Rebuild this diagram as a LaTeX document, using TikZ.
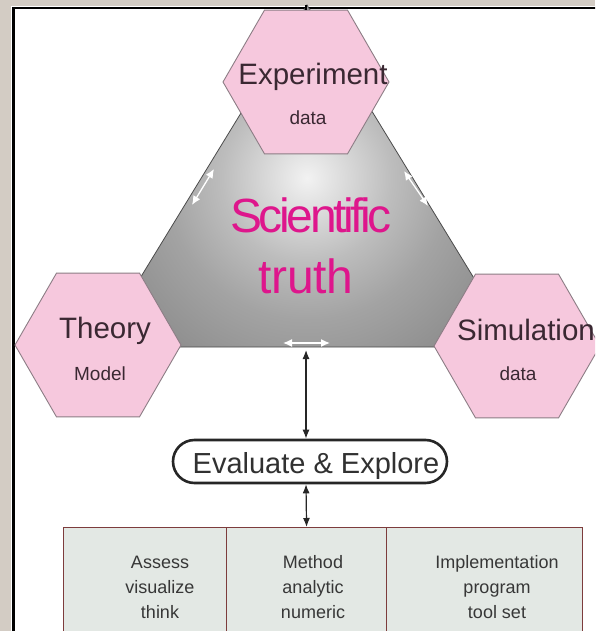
\documentclass[tikz,border=0pt]{standalone}
\usepackage{fontspec}
\setmainfont{Liberation Sans}
\newfontfamily\truthfont[LetterSpace=-7]{Liberation Sans}
\newfontfamily\truthfontb[LetterSpace=-1]{Liberation Sans}
\usetikzlibrary{shapes.geometric,arrows.meta}

\definecolor{pagegray}{RGB}{211,204,196}
\definecolor{hexpink}{RGB}{246,200,221}
\definecolor{hexline}{RGB}{140,125,133}
\definecolor{hextext}{RGB}{58,40,50}
\definecolor{truthpink}{RGB}{222,22,140}
\definecolor{boxfill}{RGB}{227,232,228}
\definecolor{boxline}{RGB}{125,60,60}
\definecolor{bodytext}{RGB}{55,55,55}
\definecolor{edgegray}{RGB}{75,75,75}

% light spot in the middle, darker towards the corners of the triangle
\pgfdeclareradialshading{truthshade}{\pgfpoint{0bp}{0bp}}{%
  rgb(0bp)=(0.95,0.95,0.95);
  rgb(4bp)=(0.88,0.88,0.88);
  rgb(12bp)=(0.74,0.74,0.74);
  rgb(20bp)=(0.64,0.64,0.64);
  rgb(30bp)=(0.56,0.56,0.56);
  rgb(36bp)=(0.46,0.46,0.46);
  rgb(41bp)=(0.35,0.35,0.35);
  rgb(50bp)=(0.29,0.29,0.29)}

\tikzset{
  hexagon/.style={regular polygon, regular polygon sides=6, minimum size=166pt,
    inner sep=0pt, fill=hexpink, draw=hexline, line width=0.9pt},
  hextitle/.style={text=hextext, inner sep=0pt, font=\fontsize{29.5}{30}\selectfont},
  hexsub/.style={text=hextext, inner sep=0pt, font=\fontsize{19}{20}\selectfont},
  truthtext/.style={text=truthpink, inner sep=0pt, font=\truthfont\fontsize{48}{50}\selectfont},
  truthtextb/.style={text=truthpink, inner sep=0pt, font=\truthfontb\fontsize{48}{50}\selectfont},
  stadium/.style={rectangle, rounded corners=21.5pt, minimum width=274pt,
    minimum height=43pt, draw=black!85, line width=2.6pt, fill=white, inner sep=0pt},
  evaltext/.style={text=bodytext!90!black, inner sep=0pt, font=\fontsize{29}{30}\selectfont},
  panelbox/.style={rectangle, anchor=north west, fill=boxfill, draw=boxline,
    line width=1.1pt, minimum height=140pt, inner sep=0pt},
  boxtext/.style={text=bodytext, align=center, inner sep=0pt,
    font=\fontsize{18}{25}\selectfont},
  dblarrow/.style={{Latex[length=9pt,width=7pt]}-{Latex[length=9pt,width=7pt]},
    line width=1.2pt, draw=black!85},
  whitearrow/.style={{Latex[length=9pt,width=8pt]}-{Latex[length=9pt,width=8pt]},
    line width=1.3pt, draw=white, fill=white},
}

\begin{document}
\begin{tikzpicture}[x=1pt,y=-1pt]
\useasboundingbox (0,0) rectangle (595,631);
\clip (0,0) rectangle (595,631);

% page and framed panel
\fill[pagegray] (0,0) rectangle (595,631);
\fill[white] (11,6) rectangle (12,640);
\fill[white] (11,6) rectangle (600,7);
\fill[white] (15,9.5) rectangle (600,640);
\fill[black] (12,7) rectangle (15,640);
\fill[black] (12,7) rectangle (600,9.5);

% shaded triangle
\coordinate (tl) at (98,347);
\coordinate (tr) at (516,347);
\coordinate (tt) at (307,5);
\begin{scope}
  \clip (tl) -- (tt) -- (tr) -- cycle;
  \shade[shading=truthshade] (130,1) rectangle (484,355);
\end{scope}
\draw[edgegray, line width=0.8pt] (tl) -- (tt) -- (tr) -- cycle;

% white arrows along the triangle edges
\coordinate (wa1) at (214,169);
\coordinate (wa2) at (192,205);
\coordinate (wb1) at (404,171);
\coordinate (wb2) at (428,206);
\coordinate (wc1) at (283,343);
\coordinate (wc2) at (330,343);
\draw[whitearrow] (wa1) -- (wa2);
\draw[whitearrow] (wb1) -- (wb2);
\draw[whitearrow] (wc1) -- (wc2);

% the three hexagons
\node[hexagon] (hexE) at (306,82) {};
\node[hexagon] (hexT) at (98,345) {};
\node[hexagon] (hexS) at (517,346) {};
\draw[black, line width=1.2pt] (hexE.north) -- ++(0,-5);

\node[hextitle, anchor=base] (tE) at (313,85) {Experiment};
\node[hexsub, anchor=base] (sE) at (308,125) {data};
\node[hextitle, anchor=base] (tT) at (105,338) {Theory};
\node[hexsub, anchor=base] (sT) at (100,380) {Model};
\node[hextitle, anchor=base] (tS) at (526,340) {Simulation};
\node[hexsub, anchor=base] (sS) at (518,380) {data};

% centre text
\node[truthtext, anchor=base] (sci) at (311,232) {Scientific};
\node[truthtextb, anchor=base] (tru) at (306,293) {truth};

% evaluate node
\node[stadium] (eval) at (310,461.5) {};
\node[evaltext, anchor=base] (evalt) at (316,473) {Evaluate \& Explore};

% bottom row of boxes
\node[panelbox, minimum width=163pt] (b1) at (63,527) {};
\node[panelbox, minimum width=160pt] (b2) at (226,527) {};
\node[panelbox, minimum width=196pt] (b3) at (386,527) {};
\node[boxtext] (t1) at (160,587) {Assess\\visualize\\think};
\node[boxtext] (t2) at (313,587) {Method\\analytic\\numeric};
\node[boxtext] (t3) at (497,587) {Implementation\\program\\tool set};

% connectors
\coordinate (axis) at (306,0);
\coordinate (trib) at (306,350);
\draw[dblarrow] (eval.north -| axis) -- (trib);
\draw[dblarrow] (eval.south -| axis) -- (b2.north);
\end{tikzpicture}
\end{document}
